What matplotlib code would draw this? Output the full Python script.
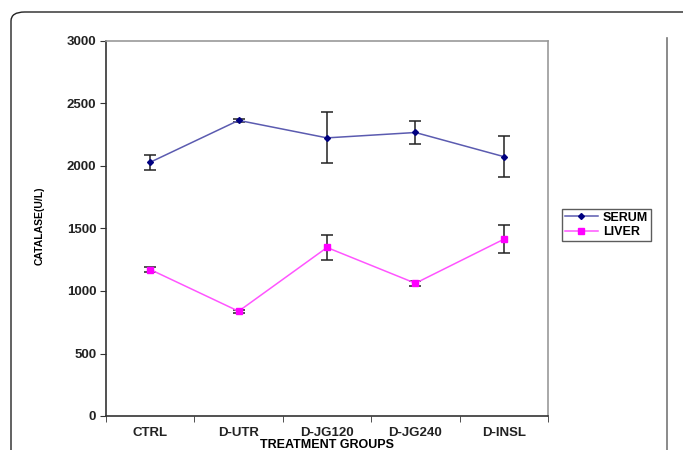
import numpy as np
import matplotlib
matplotlib.use('Agg')
import matplotlib.pyplot as plt
from matplotlib.patches import FancyBboxPatch
from matplotlib.lines import Line2D

# chart data
groups = ['CTRL', 'D-UTR', 'D-JG120', 'D-JG240', 'D-INSL']
serum = [2030, 2365, 2225, 2268, 2075]
serum_err = [60, 10, 205, 92, 165]
liver = [1172, 838, 1348, 1062, 1414]
liver_err = [18, 12, 98, 18, 110]

plt.rcParams['font.family'] = ['Liberation Sans', 'DejaVu Sans']

fig = plt.figure(figsize=(6.83, 4.5), dpi=100)
W, H = 683.0, 450.0

# rounded outer frame of the figure panel
frame = FancyBboxPatch((11 / W, -0.1), 1.2, (450 - 12) / H + 0.1,
                       boxstyle='round,pad=0,rounding_size=0.02',
                       transform=fig.transFigure, fill=False,
                       edgecolor='#222222', linewidth=1.0)
fig.patches.append(frame)
fig.add_artist(Line2D([667 / W, 667 / W], [0, 1 - 38 / H],
                      transform=fig.transFigure, color='#777777', lw=1.2))

ax = fig.add_axes([106 / W, 1 - 416 / H, (548 - 106) / W, (416 - 41) / H])
x = np.arange(len(groups))

serum_style = dict(color='#5b5bb0', lw=1.1, marker='D', markersize=3,
                   markerfacecolor='#000080', markeredgecolor='#000080')
liver_style = dict(color='#ff55ff', lw=1.1, marker='s', markersize=4,
                   markerfacecolor='#ff00ff', markeredgecolor='#ff00ff')

ax.errorbar(x, serum, yerr=serum_err, ecolor='#222222', elinewidth=1.1,
            capsize=4, capthick=1.1, zorder=3, **serum_style)
ax.errorbar(x, liver, yerr=liver_err, ecolor='#222222', elinewidth=1.1,
            capsize=4, capthick=1.1, zorder=3, **liver_style)

ax.set_xlim(-0.5, len(groups) - 0.5)
ax.set_ylim(0, 3000)
ax.set_yticks(np.arange(0, 3001, 500))
ax.set_yticklabels([str(v) for v in range(0, 3001, 500)],
                   fontsize=9.5, fontweight='bold', color='#222222')
ax.set_xticks(x)
ax.set_xticklabels(groups, fontsize=9.5, fontweight='bold', color='#222222')
ax.tick_params(axis='x', length=0, pad=8)
ax.set_xticks(np.arange(-0.5, len(groups), 1.0), minor=True)
ax.tick_params(axis='x', which='minor', length=4, direction='out', color='#333333')
ax.tick_params(axis='y', length=4, direction='out', color='#333333', pad=3)

for side in ['left', 'bottom']:
    ax.spines[side].set_color('#333333')
    ax.spines[side].set_linewidth(1.2)
for side in ['top', 'right']:
    ax.spines[side].set_color('#999999')
    ax.spines[side].set_linewidth(1.2)

ax.set_xlabel('TREATMENT GROUPS', fontsize=9, fontweight='bold', labelpad=0)
fig.text(40 / W, 1 - 226 / H, 'CATALASE(U/L)', rotation=90, fontsize=7.5,
         fontweight='bold', ha='center', va='center')

handles = [Line2D([], [], **serum_style), Line2D([], [], **liver_style)]
leg = ax.legend(handles, ['SERUM', 'LIVER'], loc='center left',
                bbox_to_anchor=(562 / W, 1 - 225 / H),
                bbox_transform=fig.transFigure, fontsize=9, frameon=True,
                fancybox=False, edgecolor='#333333', handlelength=2.6,
                borderpad=0.25, labelspacing=0.2, handletextpad=0.4,
                borderaxespad=0)
leg.get_frame().set_linewidth(1.0)
for t in leg.get_texts():
    t.set_fontweight('bold')

fig.savefig('out.png', dpi=100)
